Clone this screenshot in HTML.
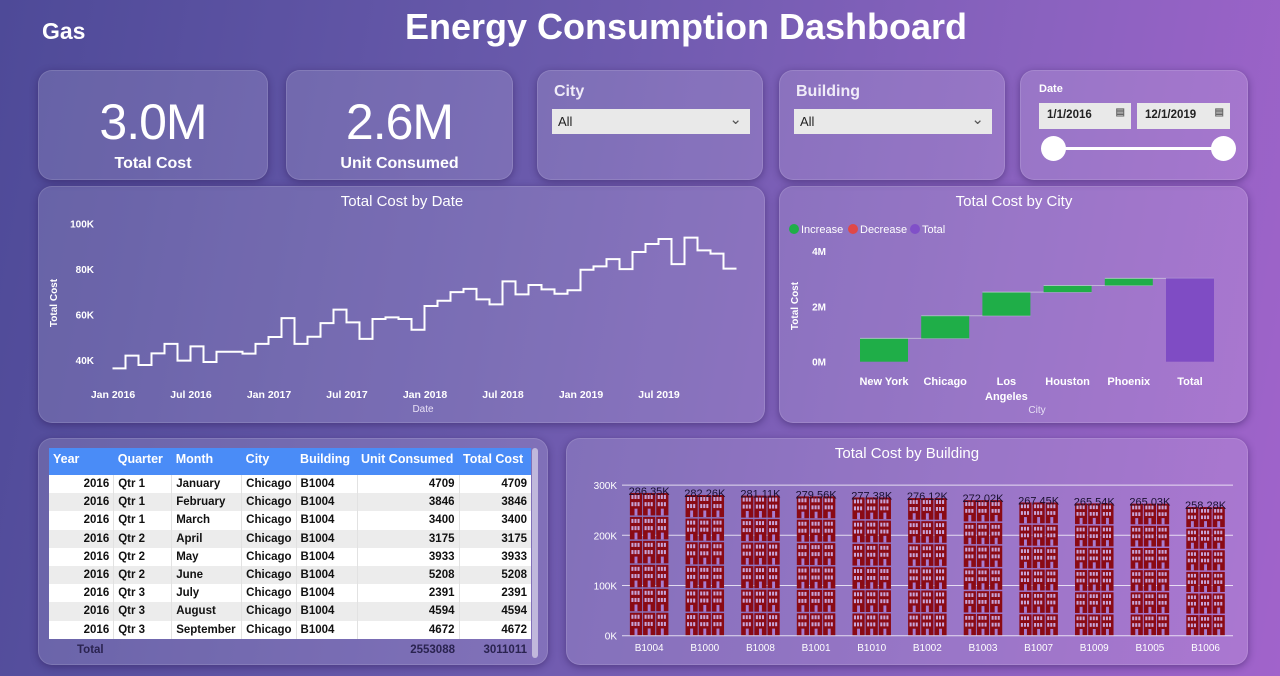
<!DOCTYPE html>
<html><head><meta charset="utf-8">
<style>
*{box-sizing:border-box;margin:0;padding:0}
body{width:1280px;height:676px;overflow:hidden;font-family:"Liberation Sans",sans-serif;color:#fff;
background:linear-gradient(100deg,#4e4a98 0%,#6a5aac 40%,#8a62bf 75%,#a163cb 100%);position:relative}
.card{position:absolute;border-radius:14px;background:rgba(255,255,255,0.13);box-shadow:0 2px 8px rgba(40,20,80,0.45);border:1px solid rgba(255,255,255,0.12)}
.abs{position:absolute}
.kpi-v{position:absolute;width:100%;text-align:center;font-size:50px;top:22px;letter-spacing:-1px}
.kpi-l{position:absolute;width:100%;text-align:center;font-size:16px;font-weight:bold;top:84px}
.slabel{position:absolute;left:16px;top:12px;font-size:16px;font-weight:bold;color:#f0ecf8}
.dd{position:absolute;left:14px;top:38px;width:198px;height:25px;background:#e9e9e9;color:#222;font-size:13px;padding:5px 6px}
.dd span{position:absolute;right:8px;top:1px;font-size:15px;color:#555}
table{border-collapse:collapse;font-size:11.5px;font-weight:bold;color:#111}
td,th{height:18.2px;padding:0 4px;white-space:nowrap}
th{background:#4a8cf7;color:#fff;text-align:left;font-size:12.5px;height:27px;vertical-align:top;padding-top:4px}
tr.o td{background:#fff}tr.e td{background:#ececec}
td.r{text-align:right}
td{border-right:1px solid #e2e2e2}
</style></head><body>
<div class="abs" style="left:42px;top:18px;font-size:23px;font-weight:bold">Gas</div>
<div class="abs" style="left:0;width:1372px;text-align:center;top:6px;font-size:36px;font-weight:bold">Energy Consumption Dashboard</div>

<div class="card" style="left:38px;top:70px;width:230px;height:110px">
<div class="kpi-v">3.0M</div>
<div class="kpi-l">Total Cost</div></div>
<div class="card" style="left:286px;top:70px;width:227px;height:110px">
<div class="kpi-v">2.6M</div>
<div class="kpi-l">Unit Consumed</div></div>

<div class="card" style="left:537px;top:70px;width:226px;height:110px">
<div class="slabel">City</div>
<div class="dd">All<span>&#8964;</span></div></div>
<div class="card" style="left:779px;top:70px;width:226px;height:110px">
<div class="slabel">Building</div>
<div class="dd">All<span>&#8964;</span></div></div>
<div class="card" style="left:1020px;top:70px;width:228px;height:110px">
<div class="abs" style="left:18px;top:12px;font-size:11px;font-weight:bold">Date</div>
<div class="abs" style="left:18px;top:32px;width:92px;height:26px;background:#e9e9e9;color:#222;font-size:11.5px;font-weight:bold;padding:6px 8px">1/1/2016<span style="position:absolute;right:6px;top:4px;font-size:10px;color:#666">&#9636;</span></div>
<div class="abs" style="left:116px;top:32px;width:93px;height:26px;background:#e9e9e9;color:#222;font-size:11.5px;font-weight:bold;padding:6px 8px">12/1/2019<span style="position:absolute;right:6px;top:4px;font-size:10px;color:#666">&#9636;</span></div>
<div class="abs" style="left:30px;top:76px;width:172px;height:3px;background:#fff"></div>
<div class="abs" style="left:20px;top:65px;width:25px;height:25px;border-radius:50%;background:#fff"></div>
<div class="abs" style="left:190px;top:65px;width:25px;height:25px;border-radius:50%;background:#fff"></div>
</div>

<div class="card" style="left:38px;top:186px;width:727px;height:237px"></div>
<div class="card" style="left:779px;top:186px;width:469px;height:237px"></div>
<div class="card" style="left:38px;top:438px;width:510px;height:227px"></div>
<div class="card" style="left:566px;top:438px;width:682px;height:227px"></div>

<svg class="abs" style="left:0;top:0" width="1280" height="676" font-family="Liberation Sans, sans-serif">
<g id="line-chart"></g><g id="wf-chart"></g><g id="bar-chart"></g>
</svg>

<div class="abs" style="left:49px;top:448px;width:482px;height:210px;overflow:hidden">
<table style="width:482px">
<colgroup><col style="width:65px"><col style="width:58px"><col style="width:70px"><col style="width:54px"><col style="width:61px"><col style="width:102px"><col style="width:72px"></colgroup>
<tr><th>Year</th><th>Quarter</th><th>Month</th><th>City</th><th>Building</th><th>Unit Consumed</th><th>Total Cost</th></tr>
<tbody id="tbody"></tbody>
<tr><td colspan="5" style="border:none;color:#2a2350;padding-left:28px;height:22px">Total</td><td class="r" style="border:none;color:#2a2350">2553088</td><td class="r" style="border:none;color:#2a2350">3011011</td></tr>
</table></div>
<div class="abs" style="left:532px;top:448px;width:6px;height:210px;border-radius:3px;background:rgba(255,255,255,0.5)"></div>

<script>
const NS='http://www.w3.org/2000/svg';
function mk(p,t,a,txt){const e=document.createElementNS(NS,t);for(const k in a)e.setAttribute(k,a[k]);if(txt!=null)e.textContent=txt;p.appendChild(e);return e;}

// ---------- line chart ----------
const lineMonths=48;
const lineValues=[36.3,41.9,37.8,42.9,47.1,39.7,46.0,39.1,43.6,43.6,42.8,47.1,
50.1,58.4,47.1,50.2,56.2,62.1,56.5,49.3,58.0,58.7,58.0,53.3,
63.7,66.0,69.8,71.2,66.6,64.4,74.5,68.8,72.9,71.0,69.1,70.6,
79.6,81.1,84.3,79.9,87.4,90.9,93.1,82.1,93.7,88.1,86.7,80.1];
const lineYTicks=[40,60,80,100];
const lineXTicks=['Jan 2016','Jul 2016','Jan 2017','Jul 2017','Jan 2018','Jul 2018','Jan 2019','Jul 2019'];
// ---------- waterfall ----------
const wfCities=['New York','Chicago','Los Angeles','Houston','Phoenix'];
const wfValues=[0.84,0.82,0.85,0.24,0.26];
const wfYTicks=[0,2,4];
// ---------- building bars ----------
const bldNames=['B1004','B1000','B1008','B1001','B1010','B1002','B1003','B1007','B1009','B1005','B1006'];
const bldValues=[286.35,282.26,281.11,279.56,277.38,276.12,272.02,267.45,265.54,265.03,258.28];
const bldLabels=['286.35K','282.26K','281.11K','279.56K','277.38K','276.12K','272.02K','267.45K','265.54K','265.03K','258.28K'];
const bldYTicks=[0,100,200,300];
// ---------- table ----------
const tMonths=['January','February','March','April','May','June','July','August','September'];
const tUnits=[4709,3846,3400,3175,3933,5208,2391,4594,4672];

// line chart
(function(){
 const g=document.getElementById('line-chart');
 const x=i=>112.5+i*13.0, y=v=>360-(v-40)*2.278;
 mk(g,'text',{x:402,y:206,'text-anchor':'middle','font-size':15,fill:'#fff',},'Total Cost by Date');
 lineYTicks.forEach(t=>{const e=mk(g,'text',{x:94,y:y(t)+4,'text-anchor':'end','font-size':10,'font-weight':'bold',fill:'#fff'},t+'K');});
 lineXTicks.forEach((t,i)=>{const e=mk(g,'text',{x:x(i*6)+0.5,y:398,'text-anchor':'middle','font-size':10.5,'font-weight':'bold',fill:'#fff'},t);});
 mk(g,'text',{x:423,y:412,'text-anchor':'middle','font-size':10,fill:'#e8e0f5',},'Date');
 mk(g,'text',{x:57,y:303,'text-anchor':'middle','font-size':10,'font-weight':'bold',fill:'#fff',transform:'rotate(-90 57 303)',},'Total Cost');
 let d='';lineValues.forEach((v,i)=>{d+=(i?'L':'M')+x(i)+' '+y(v)+' L'+x(i+1)+' '+y(v)+' ';});
 const p=mk(g,'path',{d:d,fill:'none',stroke:'#fff','stroke-width':2});
 
})();

// waterfall
(function(){
 const g=document.getElementById('wf-chart');
 const y=v=>361.7-v*27.7, x=i=>860+i*61.2, bw=48;
 mk(g,'text',{x:1014,y:206,'text-anchor':'middle','font-size':15,fill:'#fff',},'Total Cost by City');
 const leg=[['Increase','#1fae48',789],['Decrease','#e04848',848],['Total','#8050c8',910]];
 leg.forEach(l=>{const c=mk(g,'circle',{cx:l[2]+5,cy:229,r:5,fill:l[1]});
  const t=mk(g,'text',{x:l[2]+12,y:233,'font-size':11,fill:'#fff'},l[0]);});
 wfYTicks.forEach(t=>{const e=mk(g,'text',{x:826,y:y(t)+4,'text-anchor':'end','font-size':10,'font-weight':'bold',fill:'#fff'},t+'M');});
 mk(g,'text',{x:798,y:306,'text-anchor':'middle','font-size':10,'font-weight':'bold',fill:'#fff',transform:'rotate(-90 798 306)',},'Total Cost');
 let cum=0;
 wfValues.forEach((v,i)=>{
  const r=mk(g,'rect',{x:x(i),y:y(cum+v),width:bw,height:y(cum)-y(cum+v),fill:'#1fae48'});
  
  cum+=v;
  const c=mk(g,'line',{x1:x(i),x2:x(i+1)+bw,y1:y(cum),y2:y(cum),stroke:'rgba(220,220,230,0.6)','stroke-width':1});
  
 });
 const tr=mk(g,'rect',{x:x(5),y:y(cum),width:bw,height:y(0)-y(cum),fill:'#7f4cc4'});
 
 wfCities.concat(['Total']).forEach((c,i)=>{
  const parts=c==='Los Angeles'?['Los','Angeles']:[c];
  parts.forEach((p,j)=>{const t=mk(g,'text',{x:x(i)+bw/2,y:385+j*15,'text-anchor':'middle','font-size':11,'font-weight':'bold',fill:'#fff'},p);});
 });
 mk(g,'text',{x:1037,y:413,'text-anchor':'middle','font-size':10,fill:'#e8e0f5',},'City');
})();

// building pictogram bars
(function(){
 const g=document.getElementById('bar-chart');
 const y=v=>635.7-v*0.502, x=i=>629.4+i*55.64, bw=39.5;
 mk(g,'text',{x:907,y:458,'text-anchor':'middle','font-size':15,fill:'#fff',},'Total Cost by Building');
 bldYTicks.forEach(t=>{
  const l=mk(g,'line',{x1:622,x2:1233,y1:y(t),y2:y(t),stroke:'rgba(255,255,255,0.75)','stroke-width':1});
  const e=mk(g,'text',{x:617,y:y(t)+4,'text-anchor':'end','font-size':10,fill:'#fff'},t+'K');});
 bldValues.forEach((v,i)=>{
  const bg=mk(g,'g',{});
  const top=y(v),h=y(0)-top,cw=bw/3,ch=h/6;
  for(let r=0;r<6;r++)for(let c=0;c<3;c++){
   const bx=x(i)+c*cw+0.5,by=top+r*ch+1,w=cw-1,hh=ch-1.5;
   mk(bg,'rect',{x:bx,y:by,width:w,height:hh,fill:'#8a0a14'});
   for(let k=0;k<3;k++){mk(bg,'rect',{x:bx+1.5+k*(w-3)/3,y:by+2,width:(w-3)/3-1,height:hh*0.18,fill:'#c8a4d8'});
    mk(bg,'rect',{x:bx+1.5+k*(w-3)/3,y:by+2+hh*0.32,width:(w-3)/3-1,height:hh*0.18,fill:'#c8a4d8'});}
   mk(bg,'rect',{x:bx+w*0.38,y:by+hh*0.7,width:w*0.24,height:hh*0.3,fill:'#a87ccf'});
  }
  const t=mk(g,'text',{x:x(i)+bw/2,y:top+3,'text-anchor':'middle','font-size':11,fill:'#1a1030'},bldLabels[i]);
  const n=mk(g,'text',{x:x(i)+bw/2,y:651,'text-anchor':'middle','font-size':10,fill:'#fff'},bldNames[i]);
 });
})();

// table rows
(function(){
 const tb=document.getElementById('tbody');
 tMonths.forEach((m,i)=>{
  const tr=document.createElement('tr');tr.className=i%2?'e':'o';
  
  
  const q='Qtr '+(Math.floor(i/3)+1);
  tr.innerHTML='<td class="r">2016</td><td>'+q+'</td><td>'+m+'</td><td>Chicago</td><td>B1004</td><td class="r">'+tUnits[i]+'</td><td class="r" style="border:none">'+tUnits[i]+'</td>';
  tb.appendChild(tr);
 });
})();
</script>
</body></html>
